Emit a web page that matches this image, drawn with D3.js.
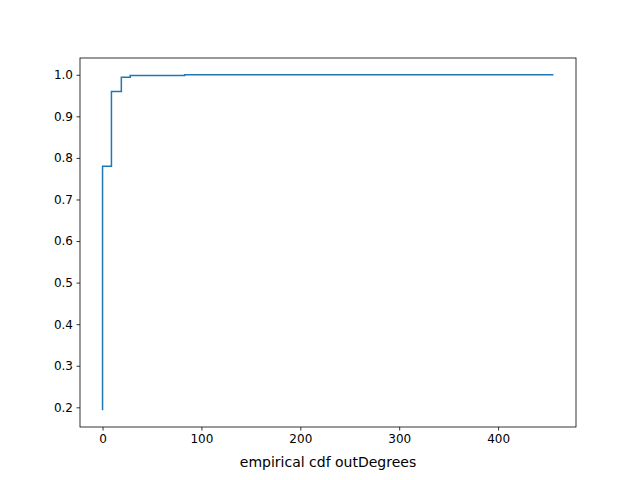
<!DOCTYPE html><html><head><script src="https://cdn.jsdelivr.net/npm/d3@7"></script>
<style>body{margin:0}text{font-family:"DejaVu Sans";}</style></head><body><svg width="640" height="480"></svg><script>
const xs=[0,0,9,19,28,83,456];
const ys=[0.193,0.78,0.96,0.994,0.998,1.0,1.0];
const xTicks=[0,100,200,300,400];
const yTicks=[0.2,0.3,0.4,0.5,0.6,0.7,0.8,0.9,1.0];
const svg=d3.select("svg");
svg.append("rect").attr("width",640).attr("height",480).attr("fill","#fff");
const L=80,R=576,T=58,B=427;
const xr=456-0, yr=1-0.193;
const x=d3.scaleLinear().domain([0-0.05*xr,456+0.05*xr]).range([L,R]);
const y=d3.scaleLinear().domain([0.193-0.05*yr,1+0.05*yr]).range([B,T]);
const pts=xs.map((v,i)=>[v,ys[i]]);
svg.append("path").attr("d",d3.line().x(d=>x(d[0])).y(d=>y(d[1])).curve(d3.curveStepAfter)(pts))
 .attr("fill","none").attr("stroke","#1f77b4").attr("stroke-width",1.5);
const ax=svg.append("g").attr("transform",`translate(0,${B})`).call(d3.axisBottom(x).tickValues(xTicks).tickSize(3.5).tickPadding(3.5).tickFormat(d3.format("d")));
const ay=svg.append("g").attr("transform",`translate(${L},0)`).call(d3.axisLeft(y).tickValues(yTicks).tickSize(3.5).tickPadding(3.5).tickFormat(d3.format(".1f")));
[ax,ay].forEach(a=>{a.select(".domain").remove();a.selectAll("text").attr("font-size",12).attr("font-family","DejaVu Sans").attr("fill","#000");a.selectAll("line").attr("stroke","#000").attr("stroke-width",0.8);});
svg.append("rect").attr("x",L).attr("y",T).attr("width",R-L).attr("height",B-T).attr("fill","none").attr("stroke","#000").attr("stroke-width",0.8);
svg.append("text").attr("x",(L+R)/2).attr("y",467).attr("text-anchor","middle").attr("font-size",14).text("empirical cdf outDegrees");
</script></body></html>
